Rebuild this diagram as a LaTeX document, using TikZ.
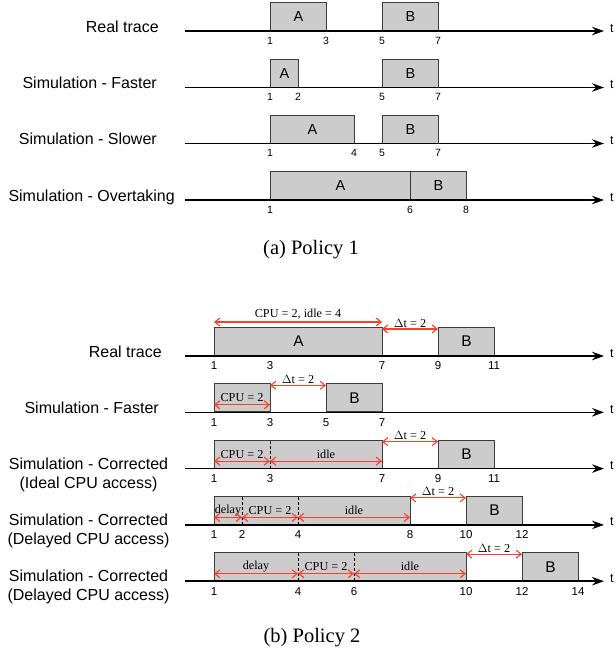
\documentclass[tikz,border=0pt]{standalone}
\usepackage{fontspec}
\setmainfont{Liberation Serif}
\setsansfont{Liberation Sans}
\usetikzlibrary{arrows.meta}
\definecolor{boxfill}{RGB}{204,204,204}
\definecolor{boxedge}{RGB}{60,60,60}
\definecolor{dimred}{RGB}{255,60,40}
\tikzset{
  tbox/.style={draw=boxedge, fill=boxfill, line width=0.9pt, minimum height=28pt,
    inner sep=0pt, anchor=south west, font=\sffamily\fontsize{14.5}{16}\selectfont},
  bbox/.style={tbox, font=\sffamily\fontsize{15.5}{17}\selectfont},
  axisline/.style={line width=1.6pt, -{Stealth[length=12pt,width=8.5pt,inset=4pt]}},
  rowlab/.style={font=\sffamily\fontsize{16}{19}\selectfont, inner sep=0pt, anchor=base east},
  rowlabc/.style={font=\sffamily\fontsize{16}{19}\selectfont, inner sep=0pt, anchor=base},
  tlab/.style={font=\sffamily\fontsize{12.5}{14}\selectfont, inner sep=0pt, anchor=base west},
  tickA/.style={font=\sffamily\fontsize{10.5}{12}\selectfont, inner sep=0pt},
  tickB/.style={font=\sffamily\fontsize{11.5}{13}\selectfont, inner sep=0pt},
  dimarr/.style={draw=dimred, line width=1.1pt,
    {Straight Barb[length=5pt,width=8pt]}-{Straight Barb[length=5pt,width=8pt]}},
  dimlab/.style={font=\fontsize{12.2}{14}\selectfont, inner sep=0pt, anchor=base},
  divline/.style={draw=black, line width=0.8pt, dash pattern=on 3pt off 2pt},
  caption/.style={font=\fontsize{20.5}{24}\selectfont, inner sep=0pt}
}
\begin{document}
\begin{tikzpicture}[x=1pt,y=-1pt]
\useasboundingbox (0,0) rectangle (616,651);

% ===================== Policy 1 =====================
% Row 1: Real trace (axis 31)
\node[tbox, minimum width=56pt] (p1aA) at (270,31) {A};
\node[tbox, minimum width=56pt] (p1aB) at (382,31) {B};
\coordinate (p1as) at (185,31); \coordinate (p1ae) at (604,31);
\draw[axisline] (p1as) -- (p1ae);
\node[tlab] (p1at) at (610,32) {t};
\node[rowlab] (p1al) at (159,32) {Real trace};
\foreach \t in {1,3,5,7} \node[tickA] (p1an\t) at ({242+28*\t},40.5) {\t};

% Row 2: Simulation - Faster (axis 87.5)
\node[tbox, minimum width=28pt] (p1bA) at (270,87.5) {A};
\node[tbox, minimum width=56pt] (p1bB) at (382,87.5) {B};
\coordinate (p1bs) at (185,87.5); \coordinate (p1be) at (604,87.5);
\draw[axisline] (p1bs) -- (p1be);
\node[tlab] (p1bt) at (610,88.5) {t};
\node[rowlab] (p1bl) at (157,88.5) {Simulation - Faster};
\foreach \t in {1,2,5,7} \node[tickA] (p1bn\t) at ({242+28*\t},97) {\t};

% Row 3: Simulation - Slower (axis 143.5)
\node[tbox, minimum width=84pt] (p1cA) at (270,143.5) {A};
\node[tbox, minimum width=56pt] (p1cB) at (382,143.5) {B};
\coordinate (p1cs) at (185,143.5); \coordinate (p1ce) at (604,143.5);
\draw[axisline] (p1cs) -- (p1ce);
\node[tlab] (p1ct) at (610,144.5) {t};
\node[rowlab] (p1cl) at (157,144.5) {Simulation - Slower};
\foreach \t in {1,4,5,7} \node[tickA] (p1cn\t) at ({242+28*\t},153) {\t};

% Row 4: Simulation - Overtaking (axis 200)
\node[tbox, minimum width=140pt] (p1dA) at (270,200) {A};
\node[tbox, minimum width=56pt] (p1dB) at (410,200) {B};
\coordinate (p1ds) at (185,200); \coordinate (p1de) at (604,200);
\draw[axisline] (p1ds) -- (p1de);
\node[tlab] (p1dt) at (610,201) {t};
\node[rowlab] (p1dl) at (175,201) {Simulation - Overtaking};
\foreach \t in {1,6,8} \node[tickA] (p1dn\t) at ({242+28*\t},209.5) {\t};

\node[caption] (capa) at (311,250) {(a) Policy 1};

% ===================== Policy 2 =====================
% Row 1: Real trace (axis 356)
\node[bbox, minimum width=168pt] (p2aA) at (214,356) {A};
\node[bbox, minimum width=56pt] (p2aB) at (438,356) {B};
\coordinate (p2as) at (185,356); \coordinate (p2ae) at (604,356);
\draw[axisline] (p2as) -- (p2ae);
\node[tlab] (p2at) at (610,357) {t};
\node[rowlab] (p2al) at (162,357) {Real trace};
\foreach \t in {1,3,7,9,11} \node[tickB] (p2an\t) at ({186+28*\t},366) {\t};
\draw[dimarr] (214,322) -- (382,322);
\node[dimlab] (p2ad1) at (298,317) {CPU = 2, idle = 4};
\draw[dimarr] (382,329) -- (438,329);
\node[dimlab] (p2ad2) at (410,327) {$\Delta$t = 2};

% Row 2: Simulation - Faster (axis 412.3)
\node[bbox, minimum width=56pt] (p2bA) at (214,412.3) {};
\node[bbox, minimum width=56pt] (p2bB) at (326,412.3) {B};
\coordinate (p2bs) at (185,412.3); \coordinate (p2be) at (604,412.3);
\draw[axisline] (p2bs) -- (p2be);
\node[tlab] (p2bt) at (610,413.3) {t};
\node[rowlab] (p2bl) at (159,413.3) {Simulation - Faster};
\foreach \t in {1,3,5,7} \node[tickB] (p2bn\t) at ({186+28*\t},422.3) {\t};
\draw[dimarr] (214,404.8) -- (270,404.8);
\node[dimlab] (p2bd1) at (242,401.8) {CPU = 2};
\draw[dimarr] (270,385.3) -- (326,385.3);
\node[dimlab] (p2bd2) at (298,383.3) {$\Delta$t = 2};

% Row 3: Simulation - Corrected (Ideal) (axis 468.6)
\node[bbox, minimum width=168pt] (p2cA) at (214,468.6) {};
\node[bbox, minimum width=56pt] (p2cB) at (438,468.6) {B};
\draw[divline] (270,440.6) -- (270,468.6);
\coordinate (p2cs) at (185,468.6); \coordinate (p2ce) at (604,468.6);
\draw[axisline] (p2cs) -- (p2ce);
\node[tlab] (p2ct) at (610,469.6) {t};
\node[rowlabc] (p2cl1) at (88.5,469) {Simulation - Corrected};
\node[rowlabc] (p2cl2) at (88.5,488) {(Ideal CPU access)};
\foreach \t in {1,3,7,9,11} \node[tickB] (p2cn\t) at ({186+28*\t},478.6) {\t};
\draw[dimarr] (214,461.1) -- (270,461.1);
\node[dimlab] (p2cd1) at (242,458.1) {CPU = 2};
\draw[dimarr] (270,461.1) -- (382,461.1);
\node[dimlab] (p2cd2) at (326,458.1) {idle};
\draw[dimarr] (382,441.6) -- (438,441.6);
\node[dimlab] (p2cd3) at (410,439.6) {$\Delta$t = 2};

% Row 4: Simulation - Corrected (Delayed) (axis 524.9)
\node[bbox, minimum width=196pt] (p2dA) at (214,524.9) {};
\node[bbox, minimum width=56pt] (p2dB) at (466,524.9) {B};
\draw[divline] (242,496.9) -- (242,524.9);
\draw[divline] (298,496.9) -- (298,524.9);
\coordinate (p2ds) at (185,524.9); \coordinate (p2de) at (604,524.9);
\draw[axisline] (p2ds) -- (p2de);
\node[tlab] (p2dt) at (610,525.9) {t};
\node[rowlabc] (p2dl1) at (88.5,525.4) {Simulation - Corrected};
\node[rowlabc] (p2dl2) at (88.5,544.4) {(Delayed CPU access)};
\foreach \t in {1,2,4,8,10,12} \node[tickB] (p2dn\t) at ({186+28*\t},534.9) {\t};
\draw[dimarr] (214,517.4) -- (242,517.4);
\node[dimlab] (p2dd1) at (228,513.4) {delay};
\draw[dimarr] (242,517.4) -- (298,517.4);
\node[dimlab] (p2dd2) at (270,514.4) {CPU = 2};
\draw[dimarr] (298,517.4) -- (410,517.4);
\node[dimlab] (p2dd3) at (354,514.4) {idle};
\draw[dimarr] (410,497.9) -- (466,497.9);
\node[dimlab] (p2dd4) at (438,495.9) {$\Delta$t = 2};

% Row 5: Simulation - Corrected (Delayed) (axis 581.2)
\node[bbox, minimum width=252pt] (p2eA) at (214,581.2) {};
\node[bbox, minimum width=56pt] (p2eB) at (522,581.2) {B};
\draw[divline] (298,553.2) -- (298,581.2);
\draw[divline] (354,553.2) -- (354,581.2);
\coordinate (p2es) at (185,581.2); \coordinate (p2ee) at (604,581.2);
\draw[axisline] (p2es) -- (p2ee);
\node[tlab] (p2et) at (610,582.2) {t};
\node[rowlabc] (p2el1) at (88.5,581.7) {Simulation - Corrected};
\node[rowlabc] (p2el2) at (88.5,600.7) {(Delayed CPU access)};
\foreach \t in {1,4,6,10,12,14} \node[tickB] (p2en\t) at ({186+28*\t},591.2) {\t};
\draw[dimarr] (214,573.7) -- (298,573.7);
\node[dimlab] (p2ed1) at (256,569.7) {delay};
\draw[dimarr] (298,573.7) -- (354,573.7);
\node[dimlab] (p2ed2) at (326,570.7) {CPU = 2};
\draw[dimarr] (354,573.7) -- (466,573.7);
\node[dimlab] (p2ed3) at (410,570.7) {idle};
\draw[dimarr] (466,554.2) -- (522,554.2);
\node[dimlab] (p2ed4) at (494,552.2) {$\Delta$t = 2};

\node[caption] (capb) at (312,638) {(b) Policy 2};
\end{tikzpicture}
\end{document}
